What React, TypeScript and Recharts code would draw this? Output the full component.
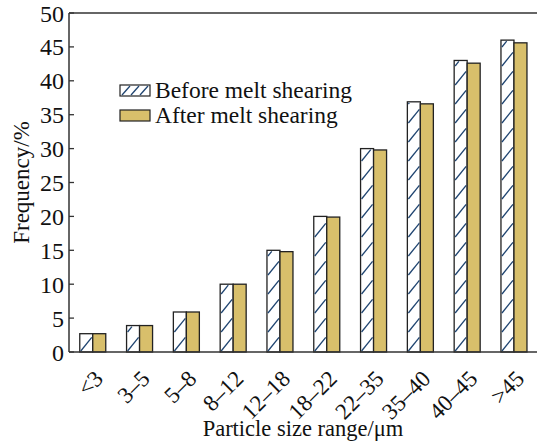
import React from 'react';
import { BarChart, Bar, XAxis, YAxis, Legend, ReferenceLine } from 'recharts';

const categories = ['<3', '3–5', '5–8', '8–12', '12–18', '18–22', '22–35', '35–40', '40–45', '>45'];
const beforeShearing = [2.7, 3.9, 5.9, 10, 15, 20, 30, 36.9, 43, 46];
const afterShearing = [2.7, 3.9, 5.9, 10, 14.8, 19.9, 29.8, 36.6, 42.6, 45.6];
const yTicks = [0, 5, 10, 15, 20, 25, 30, 35, 40, 45, 50];
const seriesOrder = ['before', 'after'];

const data = categories.map((c, i) => ({
  range: c,
  before: beforeShearing[i],
  after: afterShearing[i],
}));

const FONT = '"Liberation Serif", "Times New Roman", serif';
const GOLD = '#d8bf6b';
const HATCH = '#1f4470';
const AXIS = '#333';

// white bar with diagonal hatch lines
const HatchedBar = (props: any) => {
  const { x, y, width, height } = props;
  if (!height || height <= 0) return null;
  const bottom = y + height;
  const step = 19;
  const rise = width * 1.05;
  const lines = [];
  for (let y0 = bottom - 1; y0 > y + 2; y0 -= step) {
    let y1 = y0 - rise;
    let x1 = x + width - 1;
    if (y1 < y + 1) {
      x1 = x + 1 + ((y0 - (y + 1)) / rise) * (width - 2);
      y1 = y + 1;
    }
    lines.push(<line key={y0} x1={x + 1} y1={y0} x2={x1} y2={y1} stroke={HATCH} strokeWidth={1.3} />);
  }
  return (
    <g>
      <rect x={x} y={y} width={width} height={height} fill="#fff" stroke="#222" strokeWidth={1.3} />
      {lines}
    </g>
  );
};

const GoldBar = (props: any) => {
  const { x, y, width, height } = props;
  if (!height || height <= 0) return null;
  return <rect x={x} y={y} width={width} height={height} fill={GOLD} stroke="#222" strokeWidth={1.3} />;
};

const XTick = (props: any) => {
  const { x, y, payload } = props;
  const ax = x + 12;
  const ay = y + 20;
  return (
    <text x={ax} y={ay} transform={`rotate(-45 ${ax} ${ay})`} textAnchor="end"
      fontFamily={FONT} fontSize={23} fill="#111">
      {payload.value}
    </text>
  );
};

const LegendBox = (props: any) => {
  const items = [...(props.payload || [])].sort(
    (a: any, b: any) => seriesOrder.indexOf(a.dataKey) - seriesOrder.indexOf(b.dataKey));
  return (
    <div style={{ fontFamily: FONT, fontSize: 23.5, color: '#111', lineHeight: '25px' }}>
      {items.map((entry: any) => (
        <div key={entry.value} style={{ display: 'flex', alignItems: 'center', height: 25 }}>
          <svg width={33} height={14} style={{ marginRight: 3 }}>
            {entry.dataKey === 'before' ? (
              <g>
                <rect x={1} y={1} width={30} height={11} fill="#fff" stroke="#222" strokeWidth={1.2} />
                <line x1={3} y1={11} x2={11} y2={2} stroke={HATCH} strokeWidth={1.3} />
                <line x1={12} y1={11} x2={20} y2={2} stroke={HATCH} strokeWidth={1.3} />
                <line x1={21} y1={11} x2={29} y2={2} stroke={HATCH} strokeWidth={1.3} />
              </g>
            ) : (
              <rect x={1} y={1} width={30} height={11} fill={GOLD} stroke="#222" strokeWidth={1.2} />
            )}
          </svg>
          <span>{entry.value}</span>
        </div>
      ))}
    </div>
  );
};

export default function App() {
  return (
    <div style={{ position: 'absolute', left: 0, top: 0, background: '#fff' }}>
      <BarChart width={537} height={443} data={data}
        margin={{ top: 13, right: 0, left: 0, bottom: 0 }}
        barCategoryGap="23%" barGap={0}>
        <XAxis dataKey="range" height={91} tick={<XTick />} tickLine={false}
          axisLine={{ stroke: AXIS, strokeWidth: 1.5 }} interval={0}
          label={{ value: 'Particle size range/μm', position: 'insideBottom', offset: 7,
            style: { fontFamily: FONT, fontSize: 22.5, fill: '#111' } }} />
        <YAxis width={69} domain={[0, 50]} ticks={yTicks} interval={0}
          tickSize={-5} tickMargin={10}
          tickLine={{ stroke: AXIS, strokeWidth: 1.3 }}
          axisLine={{ stroke: AXIS, strokeWidth: 1.5 }}
          tick={{ fontFamily: FONT, fontSize: 24, fill: '#111' }}
          label={{ value: 'Frequency/%', angle: -90, position: 'insideLeft', offset: 21,
            style: { fontFamily: FONT, fontSize: 23, fill: '#111', textAnchor: 'middle' } }} />
        <ReferenceLine y={50} stroke={AXIS} strokeWidth={1.5} />
        <Legend layout="vertical" align="center" verticalAlign="middle"
          content={<LegendBox />}
          wrapperStyle={{ position: 'absolute', left: 119, top: 78, width: 270 }} />
        <Bar dataKey="before" name="Before melt shearing" fill="#fff" shape={<HatchedBar />} isAnimationActive={false} />
        <Bar dataKey="after" name="After melt shearing" fill={GOLD} shape={<GoldBar />} isAnimationActive={false} />
      </BarChart>
    </div>
  );
}
